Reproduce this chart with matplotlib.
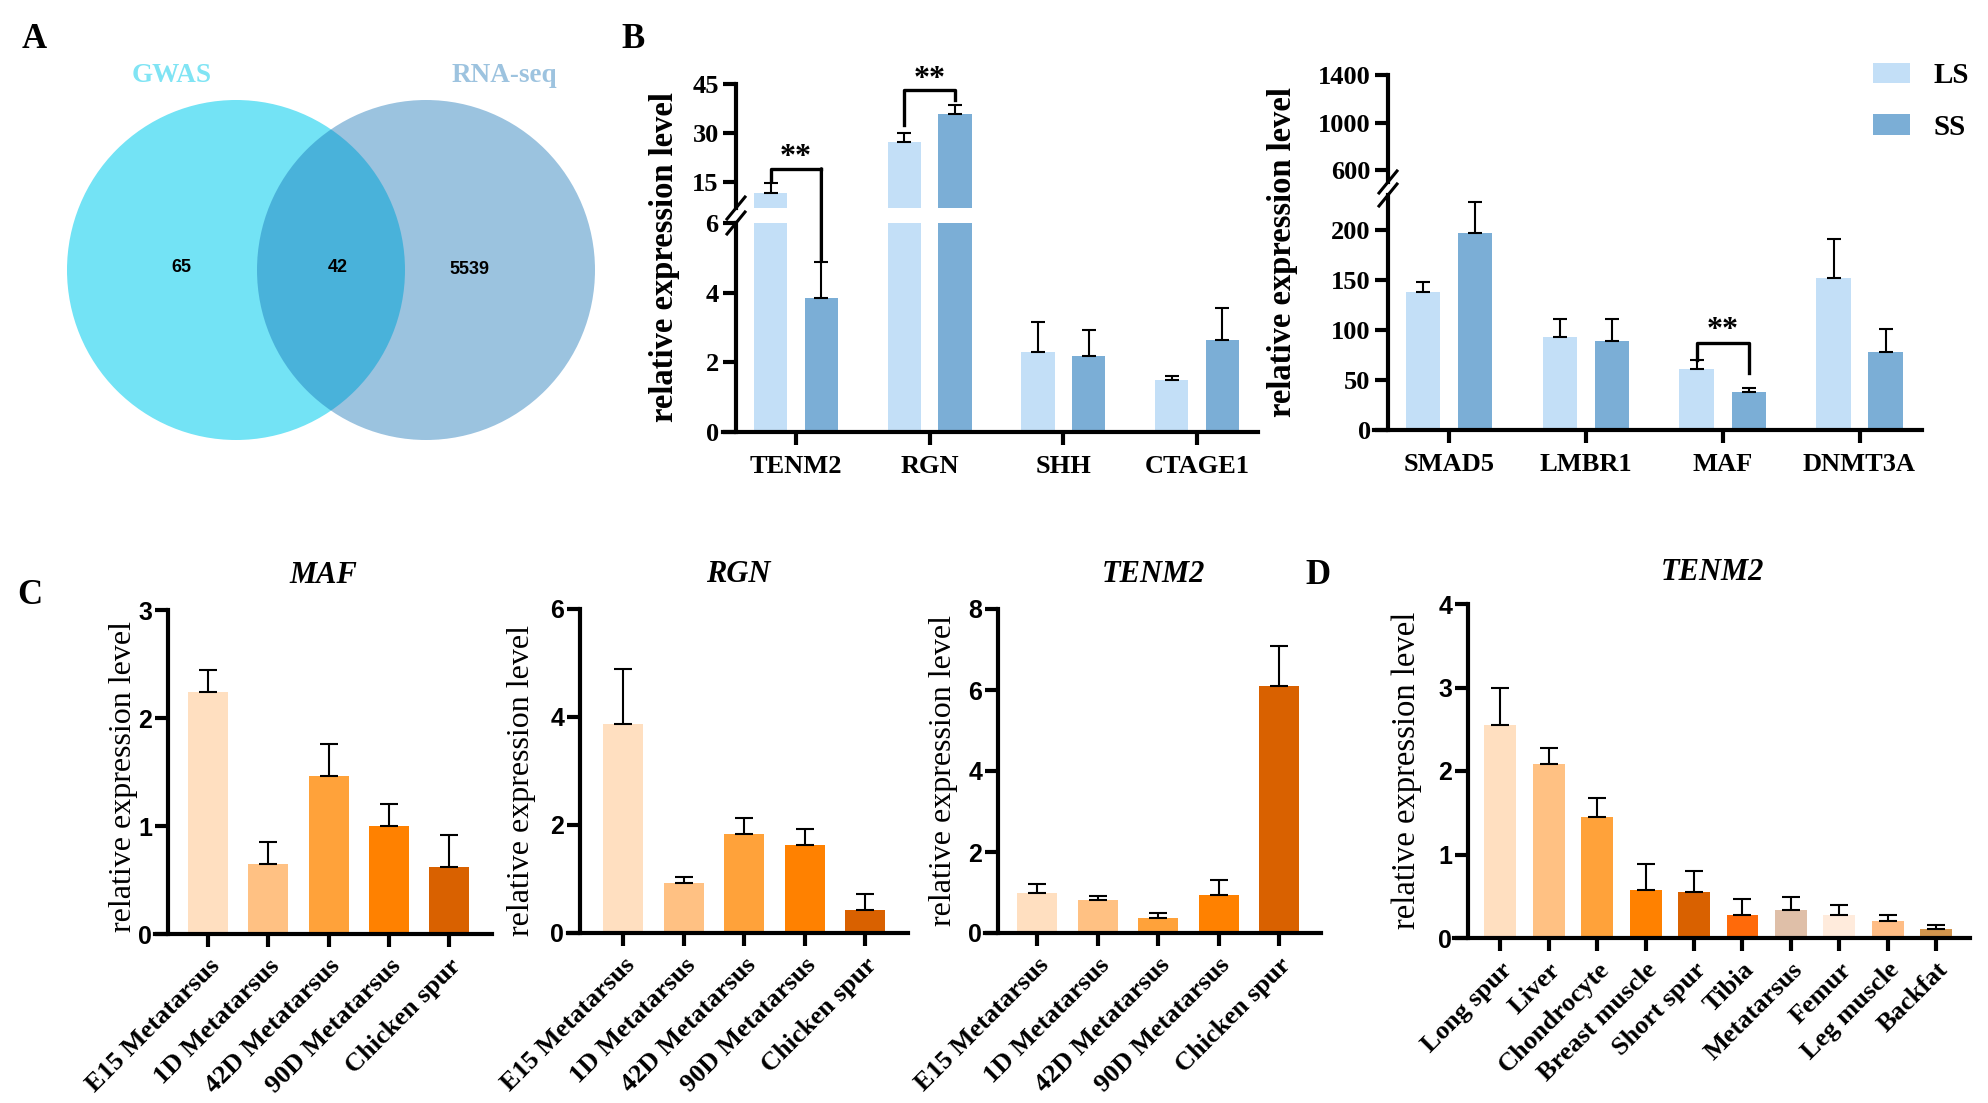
import numpy as np
import matplotlib
matplotlib.use("Agg")
import matplotlib.pyplot as plt
from matplotlib.patches import Ellipse, ConnectionPatch
from matplotlib import font_manager

W, H = 1988, 1103
SERIF = 'Liberation Serif'
SANS = 'Liberation Sans'
_names = {f.name for f in font_manager.fontManager.ttflist}
NARROW = 'Liberation Sans Narrow' if 'Liberation Sans Narrow' in _names else SANS

# A: venn counts (GWAS only, shared, RNA-seq only)
venn_sets = ['GWAS', 'RNA-seq']
venn_counts = [65, 42, 5539]

# B: qPCR long spur (LS) vs short spur (SS)
b_genes_left = ['TENM2', 'RGN', 'SHH', 'CTAGE1']
b_ls_left = [11.6, 27.3, 2.30, 1.50]
b_ls_left_err = [3.1, 2.7, 0.86, 0.11]
b_ss_left = [3.85, 35.8, 2.18, 2.64]
b_ss_left_err = [1.03, 2.8, 0.75, 0.92]

b_genes_right = ['SMAD5', 'LMBR1', 'MAF', 'DNMT3A']
b_ls_right = [138, 93, 61, 152]
b_ls_right_err = [9.5, 18, 9, 39]
b_ss_right = [197, 89, 38, 78]
b_ss_right_err = [31, 22, 4, 23]

# C: expression across developmental stages
stages = ['E15 Metatarsus', '1D Metatarsus', '42D Metatarsus', '90D Metatarsus', 'Chicken spur']
maf_vals = [2.24, 0.65, 1.46, 1.00, 0.62]
maf_err = [0.20, 0.20, 0.30, 0.20, 0.30]
rgn_vals = [3.87, 0.92, 1.83, 1.63, 0.42]
rgn_err = [1.01, 0.11, 0.30, 0.30, 0.30]
tenm2_stage_vals = [1.00, 0.82, 0.36, 0.95, 6.09]
tenm2_stage_err = [0.20, 0.10, 0.13, 0.37, 1.00]

# D: TENM2 across tissues
tissues = ['Long spur', 'Liver', 'Chondrocyte', 'Breast muscle', 'Short spur',
           'Tibia', 'Metatarsus', 'Femur', 'Leg muscle', 'Backfat']
tenm2_tissue_vals = [2.55, 2.08, 1.45, 0.58, 0.55, 0.27, 0.34, 0.28, 0.20, 0.11]
tenm2_tissue_err = [0.45, 0.20, 0.23, 0.31, 0.25, 0.20, 0.15, 0.12, 0.08, 0.045]

LS_C = '#C3DFF7'
SS_C = '#7BAED6'
stage_colors = ['#FFDFC0', '#FFC183', '#FFA23A', '#FF8100', '#D96100']
tissue_colors = ['#FFDFC0', '#FFC183', '#FFA23A', '#FF8100', '#D96100',
                 '#FF6A0A', '#DFBFA8', '#FFEBDC', '#FFBD85', '#D2954E']

LW = 3.0
fig = plt.figure(figsize=(W / 100, H / 100), dpi=100)


def add_ax(x0, x1, ytop, ybot):
    return fig.add_axes([x0 / W, 1 - ybot / H, (x1 - x0) / W, (ybot - ytop) / H])


def style(ax, spine_px, bottom=True):
    ax.spines['top'].set_visible(False)
    ax.spines['right'].set_visible(False)
    for s in ('left', 'bottom'):
        ax.spines[s].set_linewidth(LW)
    wpx = ax.get_position().width * W
    ax.spines['left'].set_position(('axes', spine_px / wpx))
    ax.tick_params(axis='both', width=LW, length=9.5, direction='out')
    ax.set_facecolor('none')
    if not bottom:
        ax.spines['bottom'].set_visible(False)
        ax.tick_params(axis='x', bottom=False, labelbottom=False)


def break_mark(ax, spine_px, yfrac):
    pos = ax.get_position()
    wpx, hpx = pos.width * W, pos.height * H
    xf = spine_px / wpx
    ax.plot([xf - 9 / wpx, xf + 9 / wpx], [yfrac - 11 / hpx, yfrac + 11 / hpx],
            transform=ax.transAxes, color='black', lw=2.2, clip_on=False)


def ylab(x, y, bold, size):
    fig.text(x / W, 1 - y / H, 'relative expression level', rotation=90,
             ha='center', va='center', fontfamily=SERIF,
             fontweight='bold' if bold else 'normal', fontsize=size)


def panel_letter(x, y, s):
    fig.text(x / W, 1 - y / H, s, ha='center', va='center', fontfamily=SERIF,
             fontweight='bold', fontsize=25)


# ---------- A: venn ----------
ax_v = add_ax(0, 620, 0, 470)
ax_v.set_xlim(0, 620)
ax_v.set_ylim(470, 0)
ax_v.axis('off')
ax_v.add_patch(Ellipse((236, 270), 338, 340, facecolor='#73E3F5', edgecolor='none'))
ax_v.add_patch(Ellipse((426, 270), 338, 340, facecolor=(17 / 255, 112 / 255, 181 / 255),
                       alpha=0.42, edgecolor='none'))
ax_v.text(172, 75, venn_sets[0], color='#80E4F4', ha='center', va='center',
          fontfamily=SERIF, fontweight='bold', fontsize=19.5)
ax_v.text(504, 75, venn_sets[1], color='#9DC3DF', ha='center', va='center',
          fontfamily=SERIF, fontweight='bold', fontsize=19.5)
for (cx, cy), n in zip([(181, 268), (338, 268), (469, 270)], venn_counts):
    ax_v.text(cx, cy, str(n), ha='center', va='center', fontfamily=NARROW,
              fontweight='bold', fontsize=13)

# ---------- B: LS vs SS ----------
off, bw = 0.19, 0.25
err_kw = dict(fmt='none', ecolor='black', elinewidth=1.5, capsize=5, capthick=1.5, zorder=3)
tick_font = dict(fontfamily=SERIF, fontweight='bold', fontsize=19)


def lsss(ax, ls, ls_err, ss, ss_err):
    x = np.arange(len(ls))
    b1 = ax.bar(x - off, ls, bw, color=LS_C, zorder=2)
    b2 = ax.bar(x + off, ss, bw, color=SS_C, zorder=2)
    ax.errorbar(x - off, ls, yerr=[np.zeros(len(ls)), ls_err], **err_kw)
    ax.errorbar(x + off, ss, yerr=[np.zeros(len(ss)), ss_err], **err_kw)
    ax.set_xlim(-0.546, 3.456)
    return b1, b2


# left pair of axes (broken y axis)
bl_lo = add_ax(723, 1258, 223, 432)
bl_hi = add_ax(723, 1258, 84, 208)
lsss(bl_lo, b_ls_left, b_ls_left_err, b_ss_left, b_ss_left_err)
lsss(bl_hi, b_ls_left, b_ls_left_err, b_ss_left, b_ss_left_err)
bl_lo.set_ylim(0, 6)
bl_hi.set_ylim(7, 45)
style(bl_lo, 13)
style(bl_hi, 13, bottom=False)
bl_lo.set_yticks([0, 2, 4, 6], labels=['0', '2', '4', '6'], **tick_font)
bl_hi.set_yticks([15, 30, 45], labels=['15', '30', '45'], **tick_font)
bl_lo.set_xticks(np.arange(4), labels=b_genes_left, **tick_font)
bl_lo.tick_params(axis='y', pad=3)
bl_hi.tick_params(axis='y', pad=3)
bl_lo.tick_params(axis='x', pad=7)
break_mark(bl_lo, 13, 1.0)
break_mark(bl_hi, 13, 0.0)

# significance brackets
bl_hi.plot([-off, -off, off], [15.6, 19, 19], color='black', lw=2.4, clip_on=False, zorder=4)
fig.add_artist(ConnectionPatch(xyA=(off, 19), coordsA=bl_hi.transData,
                               xyB=(off, 4.9), coordsB=bl_lo.transData,
                               color='black', lw=2.4))
bl_hi.text(0, 20.2, '**', ha='center', va='baseline', fontfamily=SERIF,
           fontweight='bold', fontsize=23, clip_on=False)
bl_hi.plot([1 - off, 1 - off, 1 + off, 1 + off], [32.4, 43.2, 43.2, 40.1],
           color='black', lw=2.4, clip_on=False, zorder=4)
bl_hi.text(1, 44.1, '**', ha='center', va='baseline', fontfamily=SERIF,
           fontweight='bold', fontsize=23, clip_on=False)

# right pair of axes
br_lo = add_ax(1374, 1922, 195, 430)
br_hi = add_ax(1374, 1922, 75, 182)
lsss(br_lo, b_ls_right, b_ls_right_err, b_ss_right, b_ss_right_err)
h_ls, h_ss = lsss(br_hi, b_ls_right, b_ls_right_err, b_ss_right, b_ss_right_err)
br_lo.set_ylim(0, 235)
br_hi.set_ylim(500, 1400)
style(br_lo, 14)
style(br_hi, 14, bottom=False)
br_lo.set_yticks([0, 50, 100, 150, 200], labels=['0', '50', '100', '150', '200'], **tick_font)
br_hi.set_yticks([600, 1000, 1400], labels=['600', '1000', '1400'], **tick_font)
br_lo.set_xticks(np.arange(4), labels=b_genes_right, **tick_font)
br_lo.tick_params(axis='y', pad=3)
br_hi.tick_params(axis='y', pad=3)
br_lo.tick_params(axis='x', pad=7)
break_mark(br_lo, 14, 1.0)
break_mark(br_hi, 14, 0.0)
br_lo.plot([2 - off, 2 - off, 2 + off, 2 + off], [70, 86.7, 86.7, 56.7],
           color='black', lw=2.4, zorder=4)
br_lo.text(2, 92, '**', ha='center', va='baseline', fontfamily=SERIF,
           fontweight='bold', fontsize=23)

fig.legend([h_ls, h_ss], ['LS', 'SS'], loc='upper left',
           bbox_to_anchor=(1873 / W, 1 - 62 / H), frameon=False,
           prop=dict(family=SERIF, weight='bold', size=21),
           handlelength=1.27, handleheight=0.7, handletextpad=0.8,
           labelspacing=0.85, borderpad=0, borderaxespad=0)

ylab(664, 257, True, 23.5)
ylab(1283, 252, True, 23.5)

# ---------- C and D: single-series bar panels ----------
num_font = dict(fontfamily=SANS, fontweight='bold', fontsize=18)
lab_font = dict(fontfamily=SERIF, fontweight='bold', fontsize=19)


def single(box, spine_px, labels, vals, err, colors, ylim, yticks, xlim, title, pad, cap):
    ax = add_ax(*box)
    x = np.arange(len(vals))
    ax.bar(x, vals, 0.66, color=colors, zorder=2)
    ax.errorbar(x, vals, yerr=[np.zeros(len(vals)), err], fmt='none', ecolor='black',
                elinewidth=1.5, capsize=cap, capthick=1.5, zorder=3)
    ax.set_xlim(*xlim)
    ax.set_ylim(*ylim)
    style(ax, spine_px)
    ax.set_yticks(yticks, labels=[str(t) for t in yticks], **num_font)
    ax.set_xticks(x, labels=labels, rotation=45, ha='right', rotation_mode='anchor', **lab_font)
    ax.tick_params(axis='y', pad=2)
    ax.tick_params(axis='x', pad=5)
    ax.set_title(title, fontfamily=SERIF, fontstyle='italic', fontweight='bold',
                 fontsize=22, pad=pad)
    return ax


single((155, 492, 610, 934), 13, stages, maf_vals, maf_err, stage_colors,
       (0, 3), [0, 1, 2, 3], (-0.88, 4.71), 'MAF', 19.5, 6.5)
single((568, 908, 609, 933), 12, stages, rgn_vals, rgn_err, stage_colors,
       (0, 6), [0, 2, 4, 6], (-0.91, 4.71), 'RGN', 19.5, 6.5)
single((985, 1321, 609, 933), 13, stages, tenm2_stage_vals, tenm2_stage_err, stage_colors,
       (0, 8), [0, 2, 4, 6, 8], (-0.86, 4.69), 'TENM2', 19.5, 6.5)
single((1454, 1970, 604, 938), 14, tissues, tenm2_tissue_vals, tenm2_tissue_err, tissue_colors,
       (0, 4), [0, 1, 2, 3, 4], (-0.96, 9.70), 'TENM2', 17, 6.3)

ylab(123, 776, False, 23)
ylab(522, 780, False, 23)
ylab(943, 771, False, 23)
ylab(1407, 770, False, 23.5)

panel_letter(34, 39, 'A')
panel_letter(633, 40, 'B')
panel_letter(30, 596, 'C')
panel_letter(1318, 576, 'D')

fig.savefig('out.png', dpi=100)
